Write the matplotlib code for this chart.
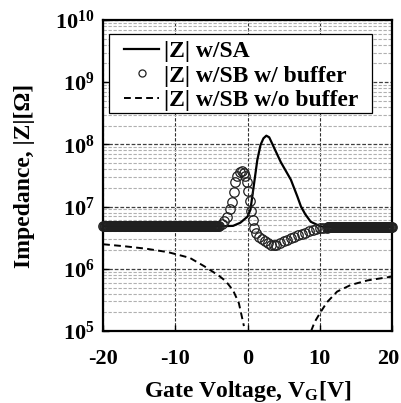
import numpy as np
import matplotlib
matplotlib.use("Agg")
import matplotlib.pyplot as plt
from matplotlib.patches import Rectangle
from matplotlib.transforms import ScaledTranslation
from matplotlib.ticker import FixedLocator, LogLocator, FuncFormatter, NullFormatter

plt.rcParams['font.family'] = ['Liberation Serif', 'DejaVu Serif']
plt.rcParams['font.weight'] = 'bold'
plt.rcParams['axes.unicode_minus'] = False
plt.rcParams['mathtext.fontset'] = 'custom'
plt.rcParams['mathtext.rm'] = 'Liberation Serif:bold'
plt.rcParams['mathtext.bf'] = 'Liberation Serif:bold'
plt.rcParams['mathtext.it'] = 'Liberation Serif:bold'

# |Z| w/SA (solid line)
sa_x = [-20, -10, -4, -2, -1, 0, 0.4, 0.85, 1.35, 1.8, 2.2, 2.6, 3.0, 4.6, 6.0, 6.9, 7.4, 8.0, 8.75, 10.1, 12, 20]
sa_y = [4.8e6, 4.8e6, 4.8e6, 4.9e6, 5.5e6, 6.9e6, 8.9e6, 2.1e7, 5.6e7, 9.8e7, 1.25e8, 1.38e8, 1.3e8,
        5.2e7, 2.7e7, 1.45e7, 1.0e7, 7.5e6, 5.7e6, 4.8e6, 4.7e6, 4.7e6]

# |Z| w/SB w/ buffer (open circles, dense sweep)
sb_left_x = list(np.round(np.arange(-20, -3.9, 0.1), 2))
sb_left_y = [4.8e6] * len(sb_left_x)
sb_peak_x = [-3.6, -3.2, -2.8, -2.4, -2.1, -1.9, -1.7, -1.4, -1.1, -0.8, -0.5, -0.3, -0.1, 0.1, 0.3,
             0.5, 0.7, 0.9, 1.2, 1.6, 2.0, 2.4, 2.8, 3.2, 3.6, 4.0, 4.5, 5.0, 5.5, 6.0, 6.5, 7.0,
             7.5, 8.0, 8.5, 9.0, 9.5, 10.0, 10.5, 11.0]
sb_peak_y = [5.3e6, 5.9e6, 6.9e6, 9.0e6, 1.2e7, 1.7e7, 2.5e7, 3.1e7, 3.6e7, 3.8e7, 3.5e7, 3.1e7, 2.5e7,
             1.8e7, 1.25e7, 8.5e6, 6.0e6, 4.6e6, 3.8e6, 3.3e6, 3.0e6, 2.75e6, 2.55e6, 2.45e6, 2.4e6,
             2.45e6, 2.6e6, 2.75e6, 2.9e6, 3.1e6, 3.3e6, 3.45e6, 3.6e6, 3.8e6, 4.0e6, 4.15e6, 4.3e6,
             4.45e6, 4.55e6, 4.6e6]
sb_right_x = list(np.round(np.arange(11.1, 20.01, 0.1), 2))
sb_right_y = [4.65e6] * len(sb_right_x)
sb_x = sb_left_x + sb_peak_x + sb_right_x
sb_y = sb_left_y + sb_peak_y + sb_right_y

# |Z| w/SB w/o buffer (dashed), two branches
nb1_x = [-20, -17, -14, -11, -8, -6, -4, -3, -2, -1.2, -0.5]
nb1_y = [2.48e6, 2.3e6, 2.1e6, 1.85e6, 1.5e6, 1.1e6, 7.8e5, 6.3e5, 4.5e5, 2.8e5, 1.2e5]
nb2_x = [8.8, 9.3, 10.1, 11.0, 12.4, 14.3, 16.6, 20]
nb2_y = [1.0e5, 1.4e5, 2.0e5, 2.9e5, 4.3e5, 5.5e5, 6.5e5, 7.5e5]

x_ticks = [-20, -10, 0, 10, 20]

fig = plt.figure(figsize=(4.01, 4.03), dpi=100)
ax = fig.add_axes([0.257, 0.1787, 0.7206, 0.7717])

ax.set_yscale('log')
ax.set_xlim(-20, 20)
ax.set_ylim(1e5, 1e10)

# grid
ax.yaxis.set_major_locator(LogLocator(base=10, numticks=10))
ax.yaxis.set_minor_locator(LogLocator(base=10, subs=np.arange(2, 10), numticks=20))
ax.yaxis.set_minor_formatter(NullFormatter())
ax.yaxis.set_major_formatter(FuncFormatter(lambda v, p: r'$\mathbf{10^{%d}}$' % int(round(np.log10(v)))))
ax.xaxis.set_major_locator(FixedLocator(x_ticks))
ax.grid(axis='y', which='minor', color='#b0b0b0', linestyle=(0, (3, 1.5)), linewidth=0.8)
ax.grid(axis='y', which='major', color='#404040', linestyle=(0, (3, 1.5)), linewidth=0.9)
ax.grid(axis='x', which='major', color='#303030', linestyle=(0, (3, 1.5)), linewidth=0.8)
ax.set_axisbelow(True)

ax.plot(sa_x, sa_y, color='black', lw=1.6, label='|Z| w/SA', zorder=3)
ax.plot(sb_x, sb_y, linestyle='none', marker='o', markersize=6.8, markerfacecolor='none',
        markeredgecolor='#202020', markeredgewidth=0.9, label='|Z| w/SB w/ buffer', zorder=4,
        clip_on=False)
ax.plot(nb1_x, nb1_y, color='black', lw=1.4, linestyle=(0, (3.5, 2.2)), label='|Z| w/SB w/o buffer', zorder=3)
ax.plot(nb2_x, nb2_y, color='black', lw=1.4, linestyle=(0, (3.5, 2.2)), zorder=3)

for s in ax.spines.values():
    s.set_linewidth(1.6)

ax.tick_params(axis='both', which='major', direction='in', length=4, width=1, labelsize=16)
ax.tick_params(axis='x', which='major', pad=13)
ax.tick_params(axis='y', which='major', pad=6)
ax.tick_params(axis='y', which='minor', length=0)

ax.set_xlabel(r'Gate Voltage, V$\mathbf{_G}$[V]', fontsize=17, fontweight='bold')
ax.set_ylabel('Impedance, |Z|[Ω]', fontsize=17, fontweight='bold')
ax.xaxis.set_label_coords(0.5, -0.155)
ax.yaxis.set_label_coords(-0.237, 0.5)

# legend frame drawn as a box, legend entries placed inside it
ax.add_patch(Rectangle((0.0208, 0.701), 0.910, 0.254, transform=ax.transAxes,
                       facecolor='white', edgecolor='black', linewidth=0.9, zorder=5))
leg = ax.legend(loc='upper left', bbox_to_anchor=(0.072, 0.933), frameon=False,
                borderpad=0, labelspacing=0.12, handlelength=1.5, handletextpad=0.2,
                borderaxespad=0, markerscale=0.75, prop={'weight': 'bold', 'size': 17})
leg.set_zorder(6)

# keep the rightmost tick label inside the canvas
fig.canvas.draw()
last = ax.xaxis.get_major_ticks()[-1].label1
last.set_transform(last.get_transform() + ScaledTranslation(-2.5 / 72, 0, fig.dpi_scale_trans))

fig.savefig('out.png', dpi=100)
